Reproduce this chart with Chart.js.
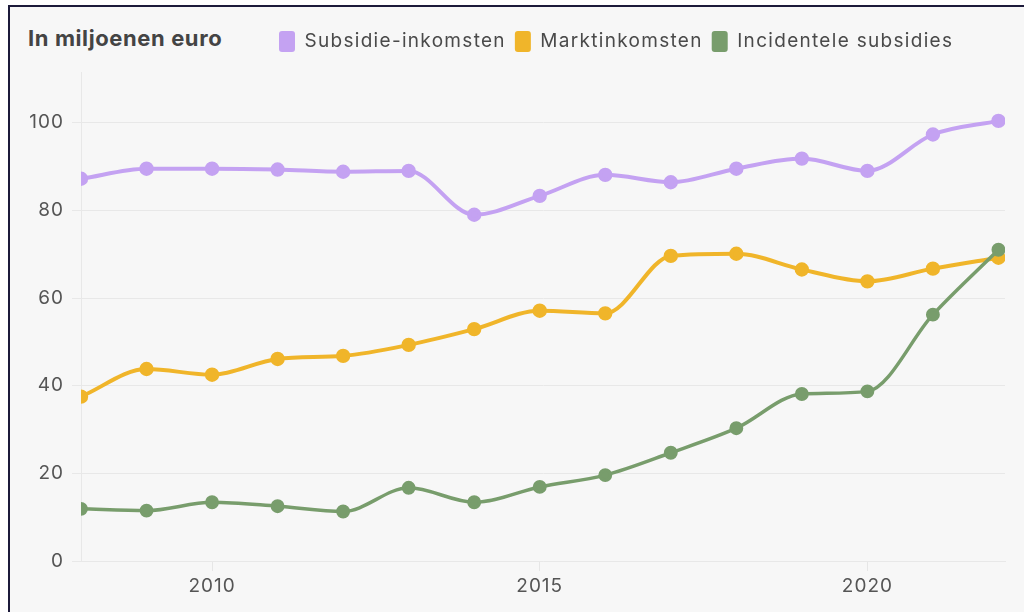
<!DOCTYPE html>
<html>
<head>
<meta charset="utf-8">
<script src="https://cdn.jsdelivr.net/npm/chart.js@4.4.1/dist/chart.umd.min.js"></script>
<style>
  html, body { margin: 0; padding: 0; background: #ffffff; width: 1024px; height: 612px; overflow: hidden; }
  #frame { position: absolute; left: 8px; top: 5px; width: 1040px; height: 640px; border-top: 2px solid #1c1a3a; border-left: 2px solid #1c1a3a; background: #f7f7f7; }
  #title { position: absolute; left: 28px; top: 25px; font-family: Inter, sans-serif; font-weight: 700; font-size: 22px; color: #444444; letter-spacing: 0.6px; line-height: 26px; }
  #wrap { position: absolute; left: 0; top: 0; width: 1024px; height: 612px; }
</style>
</head>
<body>
<div id="frame"></div>
<div id="title">In miljoenen euro</div>
<div id="wrap"><canvas id="c" width="1024" height="612"></canvas></div>
<script>
const years = [2008, 2009, 2010, 2011, 2012, 2013, 2014, 2015, 2016, 2017, 2018, 2019, 2020, 2021, 2022];
const seriesNames = ['Subsidie-inkomsten', 'Marktinkomsten', 'Incidentele subsidies'];
const subsidieInkomsten = [87.2, 89.5, 89.5, 89.3, 88.8, 89.0, 79.0, 83.3, 88.1, 86.4, 89.5, 91.8, 89.0, 97.3, 100.4];
const marktinkomsten = [37.5, 43.8, 42.5, 46.1, 46.8, 49.3, 52.9, 57.1, 56.5, 69.6, 70.1, 66.5, 63.8, 66.7, 69.2];
const incidenteleSubsidies = [11.9, 11.5, 13.4, 12.5, 11.3, 16.7, 13.4, 16.9, 19.6, 24.7, 30.3, 38.1, 38.7, 56.2, 71.0];
const xTicks = [2010, 2015, 2020];
const yTicks = [0, 20, 40, 60, 80, 100];
const colors = ['#c4a2f2', '#f0b52a', '#789d6c'];

const seriesValues = [subsidieInkomsten, marktinkomsten, incidenteleSubsidies];
const drawOrder = [2, 1, 0];

const datasets = seriesValues.map((vals, i) => ({
  label: seriesNames[i],
  data: years.map((yr, j) => ({ x: yr, y: vals[j] })),
  borderColor: colors[i],
  backgroundColor: colors[i],
  pointBackgroundColor: colors[i],
  pointBorderColor: colors[i],
  borderWidth: i === 2 ? 3.5 : 4,
  pointRadius: 5.2,
  pointHoverRadius: 5.2,
  cubicInterpolationMode: 'monotone',
  order: drawOrder[i]
}));

function setSpacing(chart, v) { if (chart.ctx) chart.ctx.letterSpacing = v || '1px'; }

const legendPlacer = {
  id: 'legendPlacer',
  beforeInit(chart) {
    setSpacing(chart);
    const lg = chart.legend;
    const origFit = lg.fit;
    lg.fit = function () {
      setSpacing(chart, '1.3px');
      origFit.bind(lg)();
      setSpacing(chart);
      this.height = 72.7;
    };
    const origDraw = lg.draw;
    lg.draw = function () {
      setSpacing(chart, '1.3px');
      origDraw.apply(lg, arguments);
      setSpacing(chart);
    };
  },
  beforeUpdate(chart) { setSpacing(chart); },
  beforeLayout(chart) { setSpacing(chart); },
  afterLayout(chart) {
    const l = chart.legend;
    l.left += 270;
    l.right += 270;
    l.top += 22;
  },
  beforeDraw(chart) { setSpacing(chart); }
};

Chart.defaults.font.family = 'Inter, sans-serif';

new Chart(document.getElementById('c'), {
  type: 'line',
  data: { datasets },
  options: {
    responsive: false,
    animation: false,
    layout: { padding: { left: 0, right: 19, top: 0, bottom: 11 } },
    plugins: {
      tooltip: { enabled: false },
      legend: {
        position: 'top',
        align: 'start',
        labels: {
          color: '#4a4a4a',
          font: { size: 19 },
          boxWidth: 16,
          boxHeight: 21,
          padding: 9,
          useBorderRadius: true,
          borderRadius: 3,
          sort: (a, b) => a.datasetIndex - b.datasetIndex,
          generateLabels(chart) {
            const items = Chart.defaults.plugins.legend.labels.generateLabels(chart);
            items.forEach(it => { it.lineWidth = 0; it.strokeStyle = 'rgba(0,0,0,0)'; });
            return items;
          }
        }
      }
    },
    scales: {
      x: {
        type: 'linear',
        min: 2008,
        max: 2022.1,
        afterBuildTicks(scale) { scale.ticks = xTicks.map(v => ({ value: v })); },
        afterFit(scale) { scale.height = 40; },
        grid: { drawOnChartArea: false, drawTicks: true, tickLength: 10, color: '#e6e6e6' },
        border: { display: true, color: '#e8e8e8', width: 1 },
        ticks: { color: '#555555', font: { size: 19 }, padding: 4, maxRotation: 0, callback: v => String(v) }
      },
      y: {
        type: 'linear',
        min: 0,
        max: 111.4,
        afterBuildTicks(scale) { scale.ticks = yTicks.map(v => ({ value: v })); },
        afterFit(scale) { scale.width = 81; },
        grid: { color: '#e8e8e8', tickLength: 9, drawTicks: true },
        border: { display: true, color: '#e8e8e8', width: 1 },
        ticks: { color: '#555555', font: { size: 19 }, padding: 8 }
      }
    }
  },
  plugins: [legendPlacer]
});
</script>
</body>
</html>
